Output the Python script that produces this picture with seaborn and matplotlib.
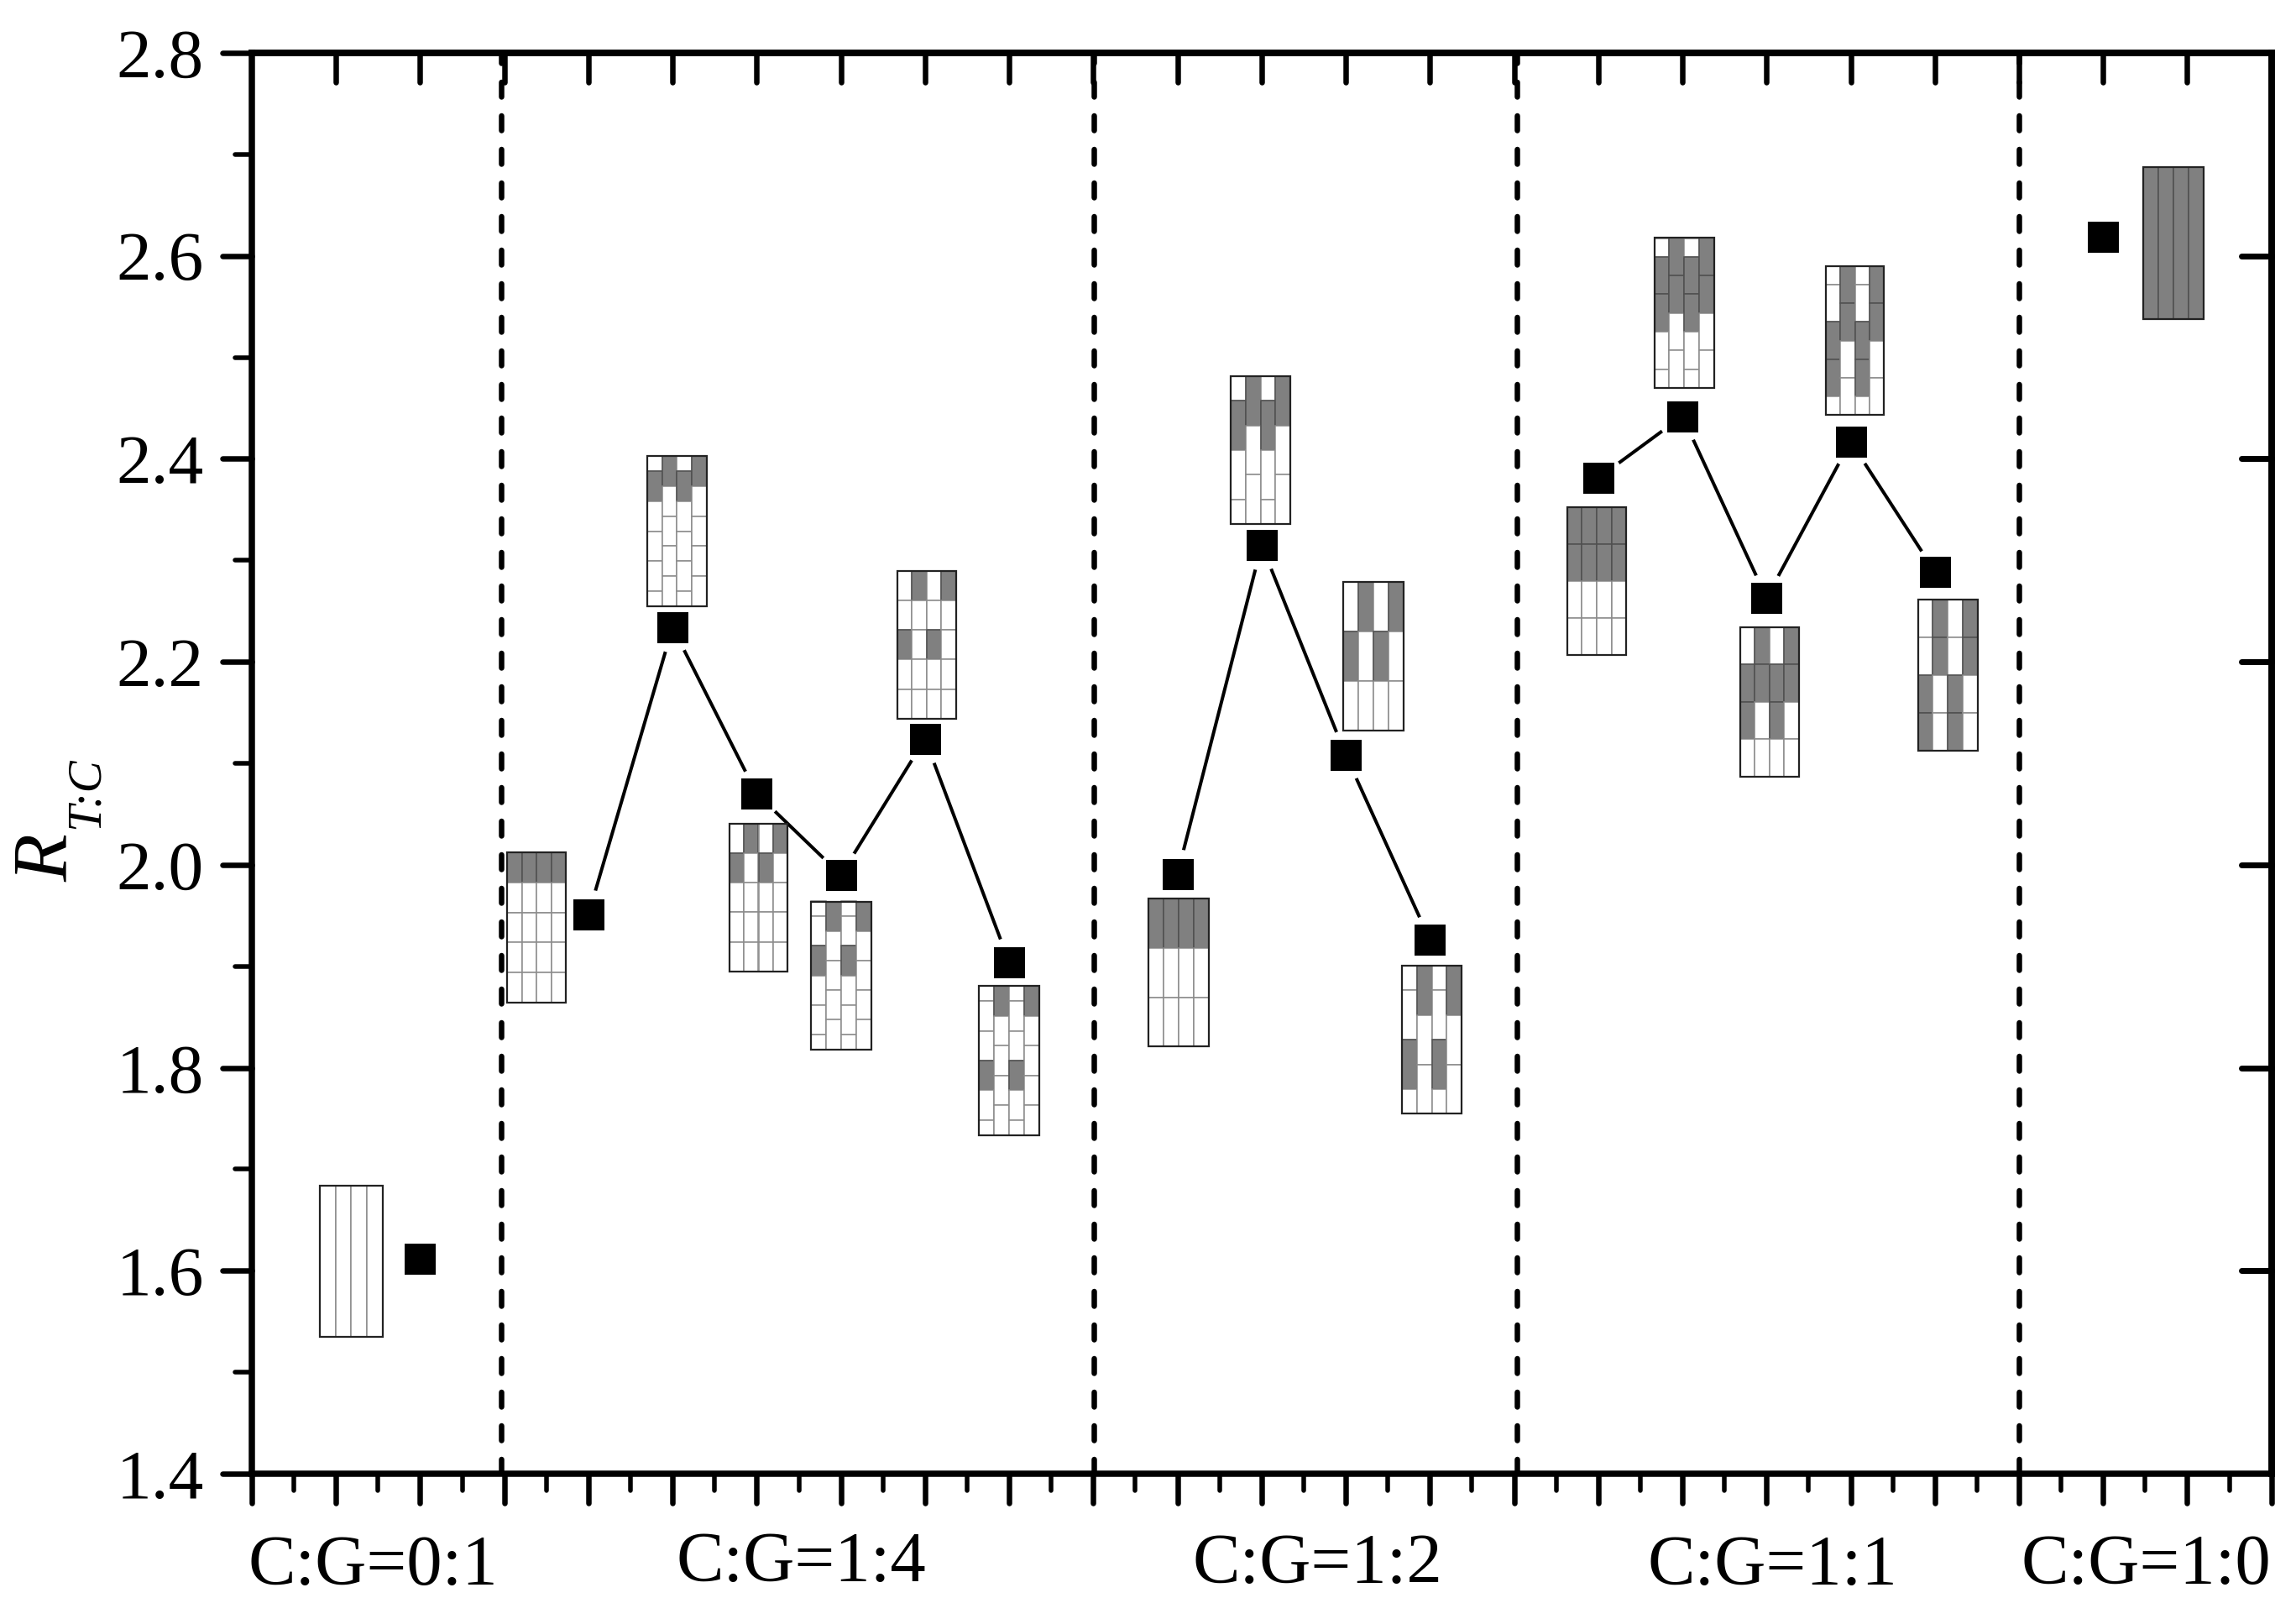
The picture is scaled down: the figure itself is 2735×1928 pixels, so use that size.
import matplotlib
matplotlib.use("Agg")
import matplotlib.pyplot as plt
import numpy as np
import pandas as pd
import seaborn as sns
from matplotlib.markers import MarkerStyle
from matplotlib.patches import Rectangle

W_PX, H_PX = 2735, 1928
DPI = 100
PT = 72 / DPI  # one output pixel in points

# measured points, split by stacking ratio
POINT_X = [2, 4, 5, 6, 7, 8, 9, 11, 12, 13, 14, 16, 17, 18, 19, 20, 22]
R_TC = [1.612, 1.951, 2.234, 2.070, 1.990, 2.124, 1.904, 1.991, 2.315, 2.108,
        1.926, 2.381, 2.442, 2.263, 2.417, 2.289, 2.619]
SEGMENT = [0, 1, 1, 1, 1, 1, 1, 2, 2, 2, 2, 3, 3, 3, 3, 3, 4]

GROUP_LABELS = ["C:G=0:1", "C:G=1:4", "C:G=1:2", "C:G=1:1", "C:G=1:0"]
GROUP_LABEL_X = [1.441, 6.529, 12.66, 18.07, 22.51]
GROUP_LABEL_Y = [1.2908, 1.2942, 1.2925, 1.2908, 1.2917]
DIVIDERS = [2.96, 10.01, 15.03, 21]

Y_TICKS = [1.4, 1.6, 1.8, 2.0, 2.2, 2.4, 2.6, 2.8]

# layups: columns 1,3 and columns 2,4, top to bottom
# G/W = full grey/white cell, g/w = half height cell
ICON_ODD = ["W", "G W W W W", "w G W W W w", "W G W W W", "w W G W W w", "W W G W W",
            "w W W G W w", "G W W", "w G W w", "W G W", "w W G w",
            "G G W W", "w G G W w", "W G G W", "w W G G w", "W W G G", "G"]
ICON_EVEN = ["W", "G W W W W", "G W W W W", "G W W W W", "G W W W W", "G W W W W",
             "G W W W W", "G W W", "G W W", "G W W", "G W W",
             "G G W W", "G G W W", "G G W W", "G G W W", "G G W W", "G"]

# icon boxes in output pixels: left, right, top, bottom
ICON_BOX = [(380.7, 456, 1411.7, 1592.3), (604, 674, 1015.5, 1193.5), (770.7, 842, 543, 722),
            (869, 938, 981, 1156.7), (966.5, 1037.7, 1073.5, 1249.7), (1068.7, 1139, 679.7, 856),
            (1166.3, 1238.3, 1174.4, 1351.6), (1367.9, 1439.8, 1070.3, 1246.4),
            (1466, 1537.3, 447.7, 624.3), (1600, 1671.7, 693.3, 870.3),
            (1669.9, 1741.3, 1149.9, 1326.3), (1866.6, 1937.2, 604, 779.9),
            (1970.5, 2041.7, 283.5, 462), (2072.7, 2142.7, 746.9, 925),
            (2174.9, 2244.3, 317, 494.2), (2284.5, 2356.3, 714.3, 893.8),
            (2553.3, 2625, 198.7, 380)]

AX_LEFT, AX_RIGHT, AX_TOP, AX_BOTTOM = 300, 2705.7, 63, 1755


def px_to_data(px, py):
    x = (px - AX_LEFT) / (AX_RIGHT - AX_LEFT) * 24
    y = 2.8 - (py - AX_TOP) / (AX_BOTTOM - AX_TOP) * 1.4
    return x, y


def draw_icon(ax, box, odd, even):
    """Draw one four column layup sketch."""
    left, right, top, bottom = box
    x0, y1 = px_to_data(left, top)
    x1, y0 = px_to_data(right, bottom)
    col_w = (x1 - x0) / 4
    for i in range(4):
        cells = (odd if i % 2 == 0 else even).split()
        units = [1.0 if c.isupper() else 0.5 for c in cells]
        unit_h = (y1 - y0) / sum(units)
        y = y1
        for c, u in zip(cells, units):
            h = u * unit_h
            grey = c.upper() == "G"
            ax.add_patch(Rectangle((x0 + i * col_w, y - h), col_w, h,
                                   facecolor="#808080" if grey else "white",
                                   edgecolor="#505050" if grey else "#8c8c8c",
                                   linewidth=1.1, zorder=3))
            y -= h
    ax.add_patch(Rectangle((x0, y0), x1 - x0, y1 - y0, fill=False, edgecolor="#222222",
                           linewidth=1.6, zorder=3.1))


def round_ticks(ticks):
    for tick in ticks:
        for line in (tick.tick1line, tick.tick2line):
            line.set_marker(MarkerStyle(line.get_marker(), capstyle="round"))


sns.set_theme(style="ticks")
plt.rcParams["font.family"] = ["Liberation Serif", "DejaVu Serif"]
plt.rcParams["lines.scale_dashes"] = False

df = pd.DataFrame({"x": POINT_X, "r": R_TC, "segment": SEGMENT})

fig = plt.figure(figsize=(W_PX / DPI, H_PX / DPI), dpi=DPI, facecolor="white")
ax = fig.add_axes([AX_LEFT / W_PX, 1 - AX_BOTTOM / H_PX,
                   (AX_RIGHT - AX_LEFT) / W_PX, (AX_BOTTOM - AX_TOP) / H_PX])

sns.lineplot(data=df, x="x", y="r", units="segment", estimator=None, sort=False,
             color="black", linewidth=4 * PT, ax=ax, zorder=2, legend=False)
# white halo keeps the gap between line ends and symbols
sns.scatterplot(data=df, x="x", y="r", marker="o", s=(60 * PT) ** 2, color="white",
                linewidth=0, ax=ax, zorder=2.5, legend=False)
sns.scatterplot(data=df, x="x", y="r", marker="s", s=(37 * PT) ** 2, color="black",
                linewidth=0, ax=ax, zorder=4, legend=False)

for box, odd, even in zip(ICON_BOX, ICON_ODD, ICON_EVEN):
    draw_icon(ax, box, odd, even)

for x in DIVIDERS:
    ax.axvline(x, color="black", linewidth=6.5 * PT, linestyle=(0, (17.5 * PT, 22.5 * PT)),
               dash_capstyle="round", zorder=1.5)

ax.set_xlim(0, 24)
ax.set_ylim(1.4, 2.8)
ax.set_xticks(np.arange(0, 25))
ax.set_xticks(np.arange(0.5, 24, 1), minor=True)
ax.set_yticks(Y_TICKS)
ax.set_yticks(np.arange(1.5, 2.8, 0.2), minor=True)
ax.set_xticklabels([])
ax.set_yticklabels([f"{v:.1f}" for v in Y_TICKS])
ax.set_xlabel("")
ax.set_ylabel("")

ax.tick_params(which="major", direction="out", length=35 * PT, width=6.5 * PT, color="black")
ax.tick_params(which="minor", direction="out", length=20 * PT, width=5.5 * PT, color="black")
ax.tick_params(axis="y", which="major", labelsize=60, pad=22 * PT, labelcolor="black")
round_ticks(ax.xaxis.get_major_ticks() + ax.xaxis.get_minor_ticks()
            + ax.yaxis.get_major_ticks() + ax.yaxis.get_minor_ticks())

top = ax.secondary_xaxis("top")
top.set_xticks(np.arange(1, 24))
top.tick_params(direction="in", length=35 * PT, width=6.5 * PT, labeltop=False, color="black")
right = ax.secondary_yaxis("right")
right.set_yticks(Y_TICKS[1:-1])
right.tick_params(direction="in", length=36 * PT, width=7 * PT, labelright=False, color="black")
round_ticks(top.xaxis.get_major_ticks() + right.yaxis.get_major_ticks())

for sec, side in ((top, "top"), (right, "right")):
    sec.spines[side].set_linewidth(7.5 * PT)
    sec.spines[side].set_color("black")
for side in ("left", "right", "top", "bottom"):
    ax.spines[side].set_visible(True)
    ax.spines[side].set_linewidth(7.5 * PT)
    ax.spines[side].set_color("black")

for label, x, y in zip(GROUP_LABELS, GROUP_LABEL_X, GROUP_LABEL_Y):
    ax.text(x, y, label, fontsize=61, ha="center", va="baseline", color="black", clip_on=False)

# axis title, main letter and subscript are set apart as in the original
fig.text(80 / W_PX, 1 - 1050 / H_PX, "R", fontsize=67, style="italic", rotation=90,
         rotation_mode="anchor", ha="left", va="baseline", color="black")
fig.text(117 / W_PX, 1 - 987 / H_PX, "T:C", fontsize=41, style="italic", rotation=90,
         rotation_mode="anchor", ha="left", va="baseline", color="black")

fig.savefig("out.png", dpi=DPI)
